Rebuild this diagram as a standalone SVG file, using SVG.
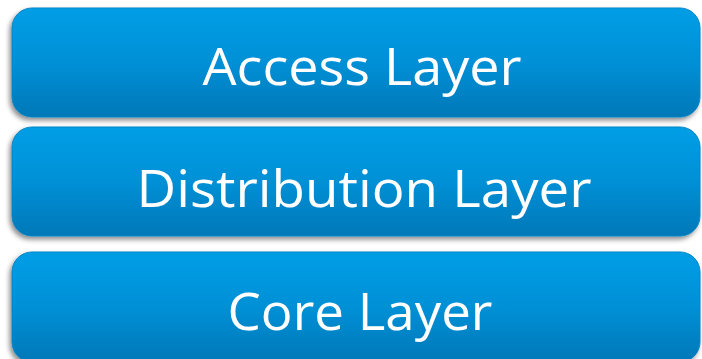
<svg xmlns="http://www.w3.org/2000/svg" width="702" height="359" viewBox="0 0 702 359">
<defs>
<linearGradient id="g" x1="0" y1="0" x2="0" y2="1">
<stop offset="0" stop-color="#009ee6"/>
<stop offset="0.5" stop-color="#0090d6"/>
<stop offset="1" stop-color="#0078b8"/>
</linearGradient>
<filter id="sh" x="-5%" y="-10%" width="110%" height="125%">
<feDropShadow dx="-2" dy="3" stdDeviation="2.5" flood-color="#000" flood-opacity="0.45"/>
</filter>
<style>
.box{fill:url(#g);filter:url(#sh);stroke:#0a86c6;stroke-width:1}
.lbl{font-family:"Open Sans","Liberation Sans",sans-serif;font-size:52px;fill:#fff;text-anchor:middle}
</style>
</defs>
<rect width="702" height="359" fill="#fff"/>
<g id="access">
<rect class="box" x="12" y="8" width="688" height="109" rx="20"/>
<text class="lbl" x="362" y="85" textLength="319" lengthAdjust="spacingAndGlyphs">Access Layer</text>
</g>
<g id="distribution">
<rect class="box" x="12" y="127" width="688" height="109" rx="20"/>
<text class="lbl" x="364" y="207" textLength="455" lengthAdjust="spacingAndGlyphs">Distribution Layer</text>
</g>
<g id="core">
<rect class="box" x="12" y="252" width="688" height="110" rx="20"/>
<text class="lbl" x="360" y="330" textLength="265" lengthAdjust="spacingAndGlyphs">Core Layer</text>
</g>
<g id="connectors"/>
</svg>
